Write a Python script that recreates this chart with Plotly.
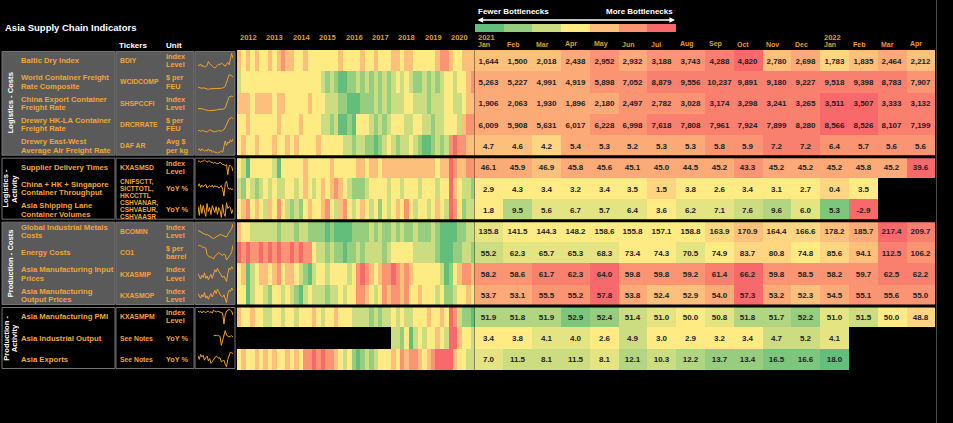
import plotly.graph_objects as go

W, H = 953, 423

# ---- row descriptions ----
GROUPS = ["Logistics - Costs", "Logistics -<br>Activity", "Production - Costs", "Production -<br>Activity"]
GROUP_SIZES = [5, 3, 4, 3]

NAMES = [
    "Baltic Dry Index",
    "World Container Freight<br>Rate Composite",
    "China Export Container<br>Freight Rate",
    "Drewry HK-LA Container<br>Freight Rate",
    "Drewry East-West<br>Average Air Freight Rate",
    "Supplier Delivery Times",
    "China + HK + Singapore<br>Container Throughput",
    "Asia Shipping Lane<br>Container Volumes",
    "Global Industrial Metals<br>Costs",
    "Energy Costs",
    "Asia Manufacturing Input<br>Prices",
    "Asia Manufacturing<br>Output Prices",
    "Asia Manufacturing PMI",
    "Asia Industrial Output",
    "Asia Exports",
]
TICKERS = ["BDIY", "WCIDCOMP", "SHSPCCFI", "DRCRRATE", "DAF AR", "KXASMSD",
           "CNIFSCTT,<br>SICTTOTL,<br>HKCCTTL", "CSHVANAR,<br>CSHVAEUR,<br>CSHVAASR",
           "BCOMIN", "CO1", "KXASMIP", "KXASMOP", "KXASMPM", "See Notes", "See Notes"]
UNITS = ["Index<br>Level", "$ per<br>FEU", "Index<br>Level", "$ per<br>FEU", "Avg $<br>per kg",
         "Index<br>Level", "YoY %", "YoY %", "Index<br>Level", "$ per<br>barrel",
         "Index<br>Level", "Index<br>Level", "Index<br>Level", "YoY %", "YoY %"]

YEARS = [2012, 2013, 2014, 2015, 2016, 2017, 2018, 2019, 2020]
MONTH_KEYS = ["2021-01", "2021-02", "2021-03", "2021-04", "2021-05", "2021-06", "2021-07", "2021-08",
              "2021-09", "2021-10", "2021-11", "2021-12", "2022-01", "2022-02", "2022-03", "2022-04"]
MONTH_LABELS = ["Jan", "Feb", "Mar", "Apr", "May", "Jun", "Jul", "Aug", "Sep", "Oct", "Nov", "Dec",
                "Jan", "Feb", "Mar", "Apr"]
LEGEND_LEVELS = [0, 1, 2, 3, 4, 5, 6]

# ---- 2012-2020 history, bottleneck level 0 (fewer) .. 6 (more), six readings per year ----
N = None
h_bdi = [4,3,4,3,4,3, 3,4,3,4,5,4, 4,3,3,4,3,3, 3,3,3,3,3,4, 3,3,3,3,4,3, 3,4,3,3,3,4, 4,3,4,4,3,3, 3,3,3,4,5,5, 4,3,3,4,4,4]
h_wci = [2,3,3,3,3,3, 3,3,3,3,3,3, 3,3,3,3,3,3, 3,2,1,2,1,0, 0,1,1,2,1,2, 1,2,1,2,1,2, 3,2,3,2,1,1, 2,1,2,1,2,3, 3,2,3,3,4,5]
h_scfi = [4,4,4,3,4,4, 4,4,3,4,4,3, 3,3,3,3,4,3, 3,3,2,2,2,1, 1,0,0,0,1,1, 1,2,1,2,1,2, 2,2,3,3,2,2, 2,1,2,2,2,3, 3,2,2,3,4,4]
h_drewry = [3,3,4,3,3,3, 3,3,3,4,3,3, 3,3,4,3,3,3, 3,2,2,1,2,0, 0,1,0,3,3,3, 2,1,2,1,2,3, 3,3,2,2,3,3, 2,2,1,2,2,3, 3,3,2,4,5,5]
h_daf = [3,4,3,3,4,3, 3,3,4,3,3,4, 3,4,3,3,3,3, 4,3,3,3,3,3, 2,2,1,2,2,1, 1,0,1,2,3,2, 1,2,2,3,2,1, 0,0,1,2,1,2, 5,6,5,5,4,4]
h_sdt = [3,2,0,3,3,3, 3,3,2,0,3,3, 3,3,3,4,3,3, 3,3,3,4,3,3, 3,3,3,4,4,3, 4,4,3,4,4,4, 4,4,4,4,4,4, 4,4,4,3,4,4, 6,5,4,4,5,5]
h_thru = [2,1,3,2,1,2, 3,2,3,2,2,3, 3,2,3,4,3,2, 3,4,3,4,5,4, 3,2,1,1,1,2, 3,3,3,3,2,3, 3,2,3,3,3,2, 3,3,3,2,3,3, 6,4,3,2,2,1]
h_lanes = [3,4,5,3,4,3, 2,4,3,5,3,2, 1,2,1,3,4,3, 3,4,5,3,2,4, 5,3,2,3,4,3, 2,3,1,3,2,3, 4,3,5,3,2,3, 3,2,3,4,3,2, 6,5,3,1,2,2]
h_metals = [4,3,3,2,2,2, 2,2,2,1,2,2, 2,1,2,2,1,1, 1,1,0,1,0,0, 0,0,1,1,1,1, 2,1,2,1,1,2, 1,2,1,1,2,1, 1,1,2,1,0,0, 0,0,1,1,2,2]
h_energy = [6,5,6,5,5,6, 5,6,5,6,5,5, 6,5,6,5,5,3, 2,2,1,2,1,1, 0,1,1,2,1,2, 2,2,2,1,2,3, 3,3,3,3,2,2, 2,2,2,1,0,0, 0,1,1,2,2,1]
h_inp = [3,4,0,2,3,4, 4,3,4,5,3,4, 4,3,2,1,0,2, 3,3,2,3,3,3, 3,2,3,5,6,5, 4,3,4,5,5,6, 5,4,5,4,3,3, 3,3,3,3,2,0, 1,3,4,5,5,4]
h_outp = [3,3,0,2,3,3, 2,1,3,3,2,3, 2,1,0,2,3,2, 2,2,1,2,2,3, 2,3,3,5,5,4, 3,2,3,5,4,5, 5,4,5,3,3,4, 3,3,3,2,3,1, 1,2,3,3,4,3]
h_pmi = [4,3,3,4,3,3, 2,2,3,3,2,3, 3,2,3,3,3,4, 3,2,3,3,4,3, 3,3,2,2,2,2, 1,2,1,2,2,3, 2,3,2,2,3,3, 3,4,3,3,4,3, 6,5,2,1,1,0]
h_ip = [N,N,N,N,N,N, N,N,N,N,N,N, N,N,N,N,N,N, N,N,N,N,N,N, N,N,N,N,N,N, N,N,N,N,N,2, 2,1,3,0,2,3, 2,3,3,4,3,2, 6,6,4,3,3,2]
h_exports = [3,4,3,3,4,3, 4,3,4,3,3,4, 3,4,3,5,5,6, 5,6,5,5,4,3, 2,3,1,0,1,2, 1,2,3,3,3,4, 3,5,4,5,5,4, 3,4,5,6,6,6, 6,4,3,3,2,2]

# ---- latest monthly readings Jan 2021 - Apr 2022 ----
v_bdi = [1644, 1500, 2018, 2438, 2952, 2932, 3188, 3743, 4288, 4820, 2780, 2698, 1783, 1835, 2464, 2212]
v_wci = [5263, 5227, 4991, 4919, 5898, 7052, 8879, 9556, 10237, 9891, 9180, 9227, 9518, 9398, 8783, 7907]
v_scfi = [1906, 2063, 1930, 1896, 2180, 2497, 2782, 3028, 3174, 3298, 3241, 3265, 3511, 3507, 3333, 3132]
v_drewry = [6009, 5908, 5631, 6017, 6228, 6998, 7618, 7808, 7961, 7924, 7899, 8280, 8566, 8526, 8107, 7199]
v_daf = [4.7, 4.6, 4.2, 5.4, 5.3, 5.2, 5.3, 5.3, 5.8, 5.9, 7.2, 7.2, 6.4, 5.7, 5.6, 5.6]
v_sdt = [46.1, 45.9, 46.9, 45.8, 45.6, 45.1, 45.0, 44.5, 45.2, 43.3, 45.2, 45.2, 45.2, 45.8, 45.2, 39.6]
v_thru = [2.9, 4.3, 3.4, 3.2, 3.4, 3.5, 1.5, 3.8, 2.6, 3.4, 3.1, 2.7, 0.4, 3.5, N, N]
v_lanes = [1.8, 9.5, 5.6, 6.7, 5.7, 6.4, 3.6, 6.2, 7.1, 7.6, 9.6, 6.0, 5.3, -2.9, N, N]
v_metals = [135.8, 141.5, 144.3, 148.2, 158.6, 155.8, 157.1, 158.8, 163.9, 170.9, 164.4, 166.6, 178.2, 185.7, 217.4, 209.7]
v_energy = [55.2, 62.3, 65.7, 65.3, 68.3, 73.4, 74.3, 70.5, 74.9, 83.7, 80.8, 74.8, 85.6, 94.1, 112.5, 106.2]
v_inp = [58.2, 58.6, 61.7, 62.3, 64.0, 59.8, 59.8, 59.2, 61.4, 66.2, 59.8, 58.5, 58.2, 59.7, 62.5, 62.2]
v_outp = [53.7, 53.1, 55.5, 55.2, 57.8, 53.8, 52.4, 52.9, 54.0, 57.3, 53.2, 52.3, 54.5, 55.1, 55.6, 55.0]
v_pmi = [51.9, 51.8, 51.9, 52.9, 52.4, 51.4, 51.0, 50.0, 50.8, 51.8, 51.7, 52.2, 51.0, 51.5, 50.0, 48.8]
v_ip = [3.4, 3.8, 4.1, 4.0, 2.6, 4.9, 3.0, 2.9, 3.2, 3.4, 4.7, 5.2, 4.1, N, N, N]
v_exports = [7.0, 11.5, 8.1, 11.5, 8.1, 12.1, 10.3, 12.2, 13.7, 13.4, 16.5, 16.6, 18.0, N, N, N]

# bottleneck level of each latest reading (0 .. 6)
l_bdi = [4, 4, 4, 4.5, 5, 4.5, 5, 5, 5.5, 6, 4, 4.5, 3.5, 4, 4.5, 4]
l_wci = [4.5, 4.5, 4.5, 4.5, 5, 5, 5.5, 5.5, 5.5, 5.5, 5.5, 5.5, 5.5, 5.5, 5.5, 5]
l_scfi = [4.5, 4.5, 4.5, 4.5, 4.5, 5, 5, 5, 5.5, 5.5, 5.5, 5.5, 6, 6, 5.5, 5.5]
l_drewry = [4.5, 4.5, 4.5, 4.5, 5, 5, 5.5, 5.5, 5.5, 5.5, 5.5, 5.5, 6, 6, 5.5, 5.5]
l_daf = [4, 4, 3.5, 4.5, 4.5, 4.5, 4.5, 4.5, 5, 5, 5.5, 5.5, 5, 5, 5, 5]
l_sdt = [4.5, 4.5, 4, 4.5, 4.5, 4.5, 4.5, 4.5, 4.5, 5, 4.5, 4.5, 4.5, 4.5, 4.5, 6]
l_thru = [3, 3, 3, 3, 3, 3, 3.5, 3, 3, 3, 3, 3, 3.5, 3, N, N]
l_lanes = [3, 1.5, 2.5, 2.5, 2.5, 2.5, 3, 2.5, 2.5, 2, 1.5, 2.5, 0.5, 6, N, N]
l_metals = [2.5, 3, 3, 3, 3, 3, 3, 3, 3.5, 4, 3.5, 3.5, 4, 4.5, 6, 5.5]
l_energy = [2, 2.5, 2.5, 2.5, 2.5, 3, 3, 2.5, 3, 3.5, 3.5, 3, 3.5, 4, 5.5, 5]
l_inp = [5, 5, 5.5, 5.5, 6, 5, 5, 5, 5.5, 6, 5, 5, 5, 5, 5.5, 5.5]
l_outp = [4.5, 4.5, 5, 5, 6, 4.5, 4, 4, 4.5, 6, 4.5, 4, 4.5, 5, 5, 5]
l_pmi = [1.5, 1.5, 1.5, 0.5, 1, 2, 2.5, 3, 2.5, 1.5, 1.5, 1, 2.5, 2, 3, 3.5]
l_ip = [3, 3, 2.5, 2.5, 3, 2, 3, 3, 3, 3, 2, 2, 2.5, N, N, N]
l_exports = [2.5, 2, 2, 2, 2.5, 1.5, 2, 1.5, 1, 1, 0.5, 0.5, 0, N, N, N]

# ---- sparkline series (long history, coarse) ----
s_bdi = [12, 11, 13, 10, 11, 9, 10, 11, 16, 13, 12, 10, 9, 8, 10, 11, 13, 12, 14, 13, 11, 10, 13, 15, 12, 18, 26, 20]
s_wci = [10, 9, 9, 8, 9, 8, 7, 6, 6, 7, 7, 8, 8, 7, 7, 7, 8, 8, 8, 9, 9, 12, 20, 30, 34, 33, 32, 29]
s_scfi = [10, 10, 9, 9, 9, 8, 8, 7, 6, 6, 6, 7, 7, 7, 7, 8, 8, 8, 8, 8, 9, 11, 16, 24, 30, 31, 32, 31]
s_drewry = [10, 10, 9, 10, 10, 9, 8, 8, 9, 11, 10, 9, 8, 8, 9, 9, 10, 9, 9, 10, 11, 14, 18, 22, 25, 26, 27, 25]
s_daf = [6, 7, 5, 7, 6, 5, 6, 5, 7, 5, 6, 4, 5, 4, 4, 3, 4, 4, 5, 4, 9, 14, 10, 13, 12, 15, 13, 16]
s_sdt = [50, 50, 49, 50, 50, 51, 50, 49, 50, 50, 49, 49, 48, 49, 48, 48, 48, 49, 48, 47, 47, 46, 47, 38, 46, 46, 45, 41]
s_thru = [8, 12, 6, 10, 7, 9, 11, 5, 8, 9, 7, 10, 6, 9, 7, 8, 5, 8, 9, 3, -8, 12, 16, 6, 3, 5, 2, 4]
s_lanes = [10, -8, 14, -4, 12, 2, -10, 16, 0, 8, -6, 12, 4, -2, 10, -6, 8, 2, -12, 14, -4, -10, 18, 6, 10, 8, -4, 4]
s_metals = [150, 145, 140, 135, 128, 120, 115, 118, 112, 105, 95, 88, 85, 92, 100, 108, 112, 118, 115, 110, 105, 100, 98, 120, 140, 150, 165, 200]
s_energy = [105, 110, 108, 100, 98, 100, 95, 60, 50, 45, 48, 40, 35, 50, 55, 60, 70, 65, 60, 55, 62, 58, 30, 40, 45, 60, 75, 110]
s_inp = [55, 52, 48, 53, 50, 56, 49, 52, 47, 51, 54, 49, 56, 60, 57, 62, 58, 55, 53, 50, 52, 49, 45, 55, 62, 60, 64, 61]
s_outp = [52, 50, 48, 51, 49, 53, 48, 50, 47, 50, 52, 49, 53, 55, 52, 56, 54, 51, 50, 49, 51, 48, 44, 52, 55, 54, 57, 55]
s_pmi = [51, 50.5, 51, 50, 51, 50.7, 50.2, 50.8, 51, 50.3, 50.7, 50, 51.5, 51, 50.5, 51, 50.8, 50.3, 50.4, 50, 44, 49, 51, 51.8, 52, 51.5, 51, 48.8]
s_ip = [N, N, N, N, N, N, N, N, N, N, N, N, 5, 6, 5, 6, 5, 4, -12, -2, 8, 14, 6, 4, 3, 4, 5, 3]
s_exports = [10, 2, 14, 8, 12, 0, 6, 10, -2, 4, -8, -4, 2, 6, 10, 8, 4, 6, -4, -2, 0, -10, -16, 2, 10, 20, 18, 16]

HIST = [h_bdi, h_wci, h_scfi, h_drewry, h_daf, h_sdt, h_thru, h_lanes, h_metals, h_energy, h_inp, h_outp, h_pmi, h_ip, h_exports]
VALS = [v_bdi, v_wci, v_scfi, v_drewry, v_daf, v_sdt, v_thru, v_lanes, v_metals, v_energy, v_inp, v_outp, v_pmi, v_ip, v_exports]
LEVELS = [l_bdi, l_wci, l_scfi, l_drewry, l_daf, l_sdt, l_thru, l_lanes, l_metals, l_energy, l_inp, l_outp, l_pmi, l_ip, l_exports]
SPARKS = [s_bdi, s_wci, s_scfi, s_drewry, s_daf, s_sdt, s_thru, s_lanes, s_metals, s_energy, s_inp, s_outp, s_pmi, s_ip, s_exports]

SCALE = [[0, "#63BE7B"], [0.5, "#FFEB84"], [1, "#F8696B"]]
ORANGE = "#eea53a"
GRAY = "#5a5a5a"
FONT = "Liberation Sans"
NROWS = len(NAMES)
TOP, BOTTOM = 50, 370
PITCH = (BOTTOM - TOP) / NROWS


def fx(px):
    return px / W


def fy(px):
    return 1 - px / H


def fmt(v, big):
    if v is None:
        return ""
    return f"{v:,.0f}" if big else f"{v:.1f}"


fig = go.Figure()

# history heatmap
per_year = len(h_bdi) // len(YEARS)
hist_x = [YEARS[0] + (k + 0.5) / per_year for k in range(len(h_bdi))]
fig.add_trace(go.Heatmap(
    z=HIST, x=hist_x, y=list(range(NROWS)), colorscale=SCALE, zmin=0, zmax=6,
    showscale=False, hoverinfo="skip", xaxis="x", yaxis="y"
))

# latest readings table
texts = [[fmt(v, r < 4) for v in row] for r, row in enumerate(VALS)]
fig.add_trace(go.Heatmap(
    z=LEVELS, x=MONTH_KEYS, y=list(range(NROWS)), colorscale=SCALE, zmin=0, zmax=6,
    text=texts, texttemplate="<b>%{text}</b>",
    textfont=dict(family=FONT, size=8, color="#1e1e1e"),
    showscale=False, hoverinfo="skip", xaxis="x2", yaxis="y"
))

# legend strip
fig.add_trace(go.Heatmap(
    z=[LEGEND_LEVELS], x=LEGEND_LEVELS, colorscale=SCALE, zmin=0, zmax=6,
    showscale=False, hoverinfo="skip", xaxis="x18", yaxis="y18"
))

layout_axes = dict(
    xaxis=dict(domain=[fx(237), fx(474.5)], range=[YEARS[0], YEARS[-1] + 1], visible=False, fixedrange=True),
    yaxis=dict(domain=[fy(BOTTOM), fy(TOP)], range=[NROWS - 0.5, -0.5], visible=False, fixedrange=True),
    xaxis2=dict(domain=[fx(474.5), fx(935)], type="category", range=[-0.5, len(MONTH_KEYS) - 0.5],
                visible=False, anchor="y", fixedrange=True),
    xaxis18=dict(domain=[fx(475), fx(676)], visible=False, anchor="y18"),
    yaxis18=dict(domain=[fy(32), fy(24)], visible=False, anchor="x18"),
)

# sparklines
for r, s in enumerate(SPARKS):
    n = r + 3
    top = TOP + PITCH * r
    fig.add_trace(go.Scatter(
        x=list(range(len(s))), y=s, mode="lines", line=dict(color="#f2a22c", width=1),
        hoverinfo="skip", showlegend=False, xaxis=f"x{n}", yaxis=f"y{n}"
    ))
    layout_axes[f"xaxis{n}"] = dict(domain=[fx(198), fx(233)], visible=False, anchor=f"y{n}")
    layout_axes[f"yaxis{n}"] = dict(domain=[fy(top + PITCH - 2.5), fy(top + 2.5)], visible=False, anchor=f"x{n}")

fig.update_layout(**layout_axes)

shapes = []
annotations = []

# group panels and labels
start = 0
for g, size in enumerate(GROUP_SIZES):
    fill = GRAY if g % 2 == 0 else "black"
    y0, y1 = start - 0.5 + 0.07, start + size - 0.5 - 0.07
    for x0, x1 in [(2, 115), (116, 194), (195, 235)]:
        shapes.append(dict(type="rect", xref="paper", yref="y", x0=fx(x0), x1=fx(x1), y0=y0, y1=y1,
                           fillcolor=fill, line=dict(color="#747474", width=1), layer="below"))
    parts = GROUPS[g].split("<br>")
    for j, part in enumerate(parts):
        annotations.append(dict(text=part, x=fx(10 + (j - (len(parts) - 1) / 2) * 8.5),
                                y=start + (size - 1) / 2, xref="paper", yref="y",
                                xanchor="center", yanchor="middle", textangle=-90, showarrow=False,
                                font=dict(family=FONT, size=7.6, color="white", weight="bold")))
    if g > 0:
        shapes.append(dict(type="line", xref="paper", yref="y", x0=fx(236), x1=fx(935),
                           y0=start - 0.5, y1=start - 0.5, line=dict(color="black", width=3)))
    start += size


def add_lines(text, px, row, pitch, size):
    parts = text.split("<br>")
    for j, part in enumerate(parts):
        annotations.append(dict(
            text=part, x=fx(px), y=row, xref="paper", yref="y", xanchor="left", yanchor="middle",
            yshift=((len(parts) - 1) / 2 - j) * pitch, showarrow=False,
            font=dict(family=FONT, size=size, color=ORANGE, weight="bold")))


for r in range(NROWS):
    add_lines(NAMES[r], 19, r, 8.4, 7.7)
    if TICKERS[r].count("<br>") > 1:
        add_lines(TICKERS[r], 118, r, 6.8, 6.5)
    else:
        add_lines(TICKERS[r], 118, r, 8.4, 6.8)
    add_lines(UNITS[r], 164, r, 8.4, 7.3)

# headers
white = dict(family=FONT, color="white", weight="bold")
annotations += [
    dict(text="Asia Supply Chain Indicators", x=fx(3), y=fy(28), xanchor="left", font=dict(size=9.5, **white)),
    dict(text="Tickers", x=fx(117), y=fy(45), xanchor="left", font=dict(size=8, **white)),
    dict(text="Unit", x=fx(164), y=fy(45), xanchor="left", font=dict(size=8, **white)),
    dict(text="Fewer Bottlenecks", x=fx(476), y=fy(11.5), xanchor="left", font=dict(size=8, **white)),
    dict(text="More Bottlenecks", x=fx(675), y=fy(11.5), xanchor="right", font=dict(size=8, **white)),
    dict(text="", x=fx(675), y=fy(20), ax=-199, ay=0, showarrow=True, arrowside="end+start",
         arrowhead=2, arrowsize=0.7, arrowwidth=1.6, arrowcolor="white"),
]
for a in annotations[-6:]:
    a.setdefault("xref", "paper")
    a.setdefault("yref", "paper")
    a.setdefault("showarrow", False)
    a.setdefault("yanchor", "middle")

orange_font = dict(family=FONT, color="#e39a2e", weight="bold")
for yr in YEARS:
    annotations.append(dict(text=str(yr), x=yr, xref="x", y=fy(37.5), yref="paper", xanchor="left",
                            yanchor="middle", xshift=1, showarrow=False, font=dict(size=7.5, **orange_font)))
for key, lab in zip(MONTH_KEYS, MONTH_LABELS):
    annotations.append(dict(text=lab, x=key, xref="x2", y=fy(44.5), yref="paper", xanchor="left",
                            yanchor="middle", xshift=-12.5, showarrow=False, font=dict(size=7, **orange_font)))
    if lab == "Jan":
        annotations.append(dict(text=key[:4], x=key, xref="x2", y=fy(37), yref="paper", xanchor="left",
                                yanchor="middle", xshift=-12.5, showarrow=False, font=dict(size=7.5, **orange_font)))

# thin frame line on the right
shapes.append(dict(type="line", xref="paper", yref="paper", x0=fx(936.5), x1=fx(936.5), y0=0, y1=1,
                   line=dict(color="#4d4d4d", width=1)))

fig.update_layout(
    width=W, height=H, autosize=False,
    margin=dict(l=0, r=0, t=0, b=0),
    paper_bgcolor="black", plot_bgcolor="rgba(0,0,0,0)",
    showlegend=False,
    shapes=shapes, annotations=annotations,
)

fig.write_html("out.html", config={"displayModeBar": False},
               post_script="document.body.style.margin='0';document.body.style.overflow='hidden';")
